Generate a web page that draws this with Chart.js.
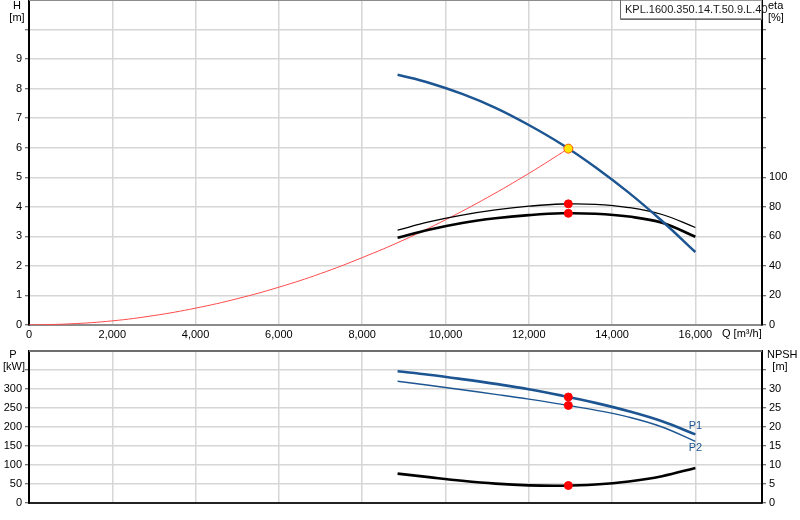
<!DOCTYPE html>
<html>
<head>
<meta charset="utf-8">
<script src="https://cdn.jsdelivr.net/npm/chart.js@4.4.1/dist/chart.umd.min.js"></script>
<style>
html, body { margin: 0; padding: 0; background: #fff; }
#wrap { position: relative; width: 800px; height: 520px; overflow: hidden; }
canvas { position: absolute; left: 0; }
#top { top: 0; }
#bottom { top: 345px; }
</style>
</head>
<body>
<div id="wrap">
	<canvas id="top" width="800" height="345"></canvas>
	<canvas id="bottom" width="800" height="175"></canvas>
</div>
<script>
// datos
var pumpName = 'KPL.1600.350.14.T.50.9.L.40';
var qPump    = [8850, 9600, 10400, 11200, 12000, 12800, 13600, 14400, 15200, 16000];
var hPump    = [8.47, 8.20, 7.82, 7.35, 6.77, 6.11, 5.34, 4.48, 3.52, 2.47];
var etaPump  = [64.2, 69.8, 74.4, 77.9, 80.4, 81.9, 81.7, 79.5, 74.8, 66.0];
var etaTotal = [59.0, 64.5, 69.1, 72.3, 74.4, 75.6, 75.3, 73.4, 69.2, 59.7];
var p1       = [346.7, 337.5, 326.0, 313.5, 299.5, 282.5, 263.5, 241.5, 215.0, 180.5];
var p2       = [320.3, 310.0, 298.0, 286.0, 273.5, 259.5, 244.5, 226.0, 200.0, 162.0];
var npsh     = [7.74, 6.80, 5.85, 5.10, 4.65, 4.55, 4.85, 5.65, 7.05, 9.24];
var qSystem  = [0, 1000, 2000, 3000, 4000, 5000, 6000, 7000, 8000, 9000, 10000, 11000, 12000, 12950];
var hSystem  = [0, 0.04, 0.14, 0.32, 0.57, 0.89, 1.28, 1.74, 2.28, 2.88, 3.56, 4.31, 5.13, 5.97];
var dutyQ = 12950;
var dutyH = 5.97;
var dutyEtaPump = 82.0;
var dutyEtaTotal = 75.6;
var dutyP1 = 278.9;
var dutyP2 = 256.7;
var dutyNpsh = 4.6;

var qTicks    = [0, 2000, 4000, 6000, 8000, 10000, 12000, 14000, 16000];
var hTicks    = [0, 1, 2, 3, 4, 5, 6, 7, 8, 9, 10];
var etaTicks  = [0, 20, 40, 60, 80, 100, 120, 140, 160, 180, 200];
var pTicks    = [0, 50, 100, 150, 200, 250, 300, 350];
var npshTicks = [0, 5, 10, 15, 20, 25, 30, 35];
var qMax = 17600, hMax = 11, etaMax = 220, pMax = 400, npshMax = 40;
var hLabelMax = 9, etaLabelMax = 100, pLabelMax = 300, npshLabelMax = 30;

var BLUE = '#1c5591';
var GRID = '#d6d6d6';

Chart.defaults.font.family = '"Liberation Sans", Arial, sans-serif';
Chart.defaults.font.size = 11;
Chart.defaults.color = '#000';

//<editor-fold defaultstate="collapsed" desc="Funciones">
function toPoints(xs, ys) {
	return xs.map(function (x, i) {
		return {x: x, y: ys[i]};
	});
}

function useTicks(values) {
	return function (scale) {
		scale.ticks = values.map(function (v) {
			return {value: v};
		});
	};
}

function fixSize(size) {
	return function (scale) {
		if (scale.isHorizontal()) {
			scale.height = size;
		} else {
			scale.width = size;
		}
		scale.paddingTop = 0;
		scale.paddingBottom = 0;
		scale.paddingLeft = 0;
		scale.paddingRight = 0;
	};
}

function labelUpTo(max) {
	return function (v) {
		return v <= max ? String(v) : '';
	};
}

function yScale(position, max, ticks, labelMax, width, onChart) {
	return {
		type: 'linear',
		position: position,
		min: 0,
		max: max,
		afterBuildTicks: useTicks(ticks),
		afterFit: fixSize(width),
		ticks: {padding: 3, callback: labelUpTo(labelMax), color: '#000'},
		grid: {color: GRID, lineWidth: 1.5, drawOnChartArea: onChart, tickLength: 4, tickColor: '#444', tickWidth: 1},
		border: {display: true, color: '#000', width: 2}
	};
}

function line(data, axis, color, width) {
	return {
		data: data,
		yAxisID: axis,
		borderColor: color,
		borderWidth: width,
		pointRadius: 0,
		fill: false,
		tension: 0.4
	};
}

function marker(data, axis, fill, stroke, radius) {
	return {
		data: data,
		yAxisID: axis,
		showLine: false,
		pointRadius: radius,
		pointBackgroundColor: fill,
		pointBorderColor: stroke,
		pointBorderWidth: 1
	};
}

function text(ctx, str, x, y, align, color) {
	ctx.save();
	ctx.font = '11px "Liberation Sans", Arial, sans-serif';
	ctx.fillStyle = color || '#000';
	ctx.textAlign = align;
	ctx.textBaseline = 'middle';
	ctx.fillText(str, x, y);
	ctx.restore();
}

function topBorder(chart, color) {
	var a = chart.chartArea, ctx = chart.ctx;
	ctx.save();
	ctx.strokeStyle = color;
	ctx.lineWidth = 2;
	ctx.beginPath();
	ctx.moveTo(a.left, a.top);
	ctx.lineTo(a.right, a.top);
	ctx.stroke();
	ctx.restore();
}

function $extend(base, extra) {
	var out = {};
	Object.keys(base).forEach(function (k) { out[k] = base[k]; });
	Object.keys(extra).forEach(function (k) { out[k] = extra[k]; });
	return out;
}
//</editor-fold>

var topDecor = {
	id: 'topDecor',
	afterDraw: function (chart) {
		var ctx = chart.ctx, a = chart.chartArea;
		topBorder(chart, '#8c8c8c');
		text(ctx, 'H', 17, 6, 'center');
		text(ctx, '[m]', 17, 18, 'center');
		text(ctx, 'eta', a.right + 6, 6, 'left');
		text(ctx, '[%]', a.right + 6, 18, 'left');
		text(ctx, 'Q [m\u00b3/h]', 722, 334, 'left');
		// cuadro con el nombre de la bomba
		var w = 142;
		ctx.save();
		ctx.fillStyle = '#fff';
		ctx.fillRect(a.right - w, 0, w, 19);
		ctx.strokeStyle = '#9a9a9a';
		ctx.lineWidth = 1;
		ctx.strokeRect(a.right - w + 0.5, 0.5, w - 1, 18);
		ctx.strokeStyle = '#6a6a6a';
		ctx.beginPath();
		ctx.moveTo(a.right - w + 0.5, 0);
		ctx.lineTo(a.right - w + 0.5, 19.5);
		ctx.lineTo(a.right, 19.5);
		ctx.stroke();
		ctx.restore();
		text(ctx, pumpName, a.right - w + 5, 9.5, 'left', '#1a1a1a');
	}
};

var bottomDecor = {
	id: 'bottomDecor',
	afterDraw: function (chart) {
		var ctx = chart.ctx, a = chart.chartArea;
		topBorder(chart, '#6e6e6e');
		text(ctx, 'P', 13, 10, 'center');
		text(ctx, '[kW]', 14, 22, 'center');
		text(ctx, 'NPSH', a.right + 5, 10, 'left');
		text(ctx, '[m]', 780, 22, 'center');
		var m1 = chart.getDatasetMeta(2).data;
		var m2 = chart.getDatasetMeta(3).data;
		var e1 = m1[m1.length - 1], e2 = m2[m2.length - 1];
		text(ctx, 'P1', e1.x, e1.y - 8, 'center', BLUE);
		text(ctx, 'P2', e2.x, e2.y + 7, 'center', BLUE);
	}
};

var xTop = {
	type: 'linear',
	min: 0,
	max: qMax,
	afterBuildTicks: useTicks(qTicks),
	afterFit: fixSize(20),
	ticks: {padding: 3, color: '#000', callback: function (v) { return Number(v).toLocaleString('en-US'); }},
	grid: {color: GRID, lineWidth: 1.5, drawTicks: false},
	border: {display: true, color: '#8c8c8c', width: 2}
};

var xBottom = {
	type: 'linear',
	min: 0,
	max: qMax,
	afterBuildTicks: useTicks(qTicks),
	afterFit: fixSize(17),
	ticks: {display: false},
	grid: {color: GRID, lineWidth: 1.5, drawTicks: false},
	border: {display: true, color: '#222', width: 2}
};

var commonOptions = {
	responsive: false,
	animation: false,
	plugins: {legend: {display: false}, tooltip: {enabled: false}},
	events: []
};

new Chart(document.getElementById('top').getContext('2d'), {
	type: 'line',
	data: {
		datasets: [
			marker([{x: dutyQ, y: dutyH}], 'y', '#ffe400', '#ff5a00', 4.5),
			marker([{x: dutyQ, y: dutyEtaPump}, {x: dutyQ, y: dutyEtaTotal}], 'eta', '#ff0000', '#ff0000', 4),
			line(toPoints(qPump, hPump), 'y', BLUE, 2.5),
			line(toPoints(qPump, etaPump), 'eta', '#000', 1.3),
			line(toPoints(qPump, etaTotal), 'eta', '#000', 2.6),
			line(toPoints(qSystem, hSystem), 'y', '#ff4a4a', 1)
		]
	},
	options: $extend(commonOptions, {
		layout: {autoPadding: false, padding: {top: 0, left: 0, right: 0, bottom: 0}},
		scales: {
			x: xTop,
			y: yScale('left', hMax, hTicks, hLabelMax, 29, true),
			eta: yScale('right', etaMax, etaTicks, etaLabelMax, 38, false)
		}
	}),
	plugins: [topDecor]
});

new Chart(document.getElementById('bottom').getContext('2d'), {
	type: 'line',
	data: {
		datasets: [
			marker([{x: dutyQ, y: dutyP1}, {x: dutyQ, y: dutyP2}], 'p', '#ff0000', '#ff0000', 4),
			marker([{x: dutyQ, y: dutyNpsh}], 'npsh', '#ff0000', '#ff0000', 4),
			line(toPoints(qPump, p1), 'p', BLUE, 2.6),
			line(toPoints(qPump, p2), 'p', BLUE, 1.4),
			line(toPoints(qPump, npsh), 'npsh', '#000', 2.6)
		]
	},
	options: $extend(commonOptions, {
		layout: {autoPadding: false, padding: {top: 6, left: 0, right: 0, bottom: 0}},
		scales: {
			x: xBottom,
			p: yScale('left', pMax, pTicks, pLabelMax, 29, true),
			npsh: yScale('right', npshMax, npshTicks, npshLabelMax, 38, false)
		}
	}),
	plugins: [bottomDecor]
});
</script>
</body>
</html>
